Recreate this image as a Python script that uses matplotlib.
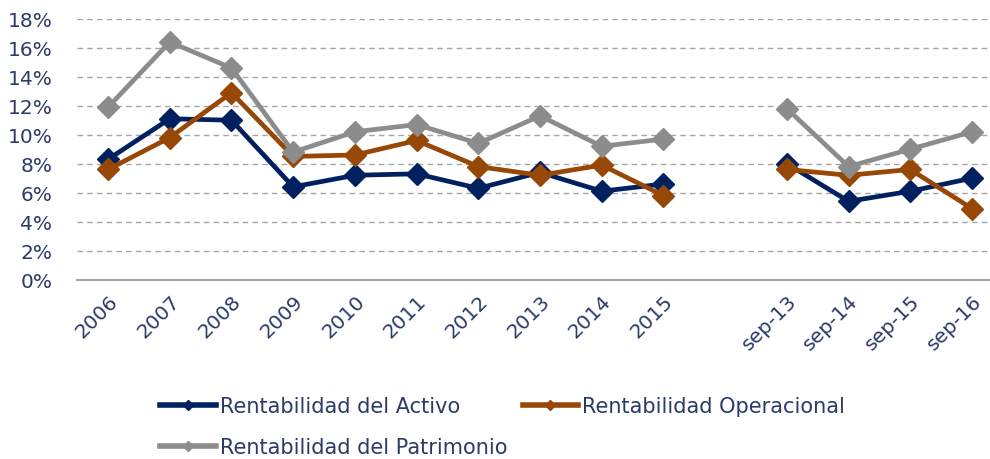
import matplotlib
matplotlib.use("Agg")
import matplotlib.pyplot as plt
import numpy as np
from matplotlib.lines import Line2D

categories = ["2006", "2007", "2008", "2009", "2010", "2011", "2012", "2013", "2014", "2015",
              "", "sep-13", "sep-14", "sep-15", "sep-16"]
activo = [8.3, 11.1, 11.0, 6.4, 7.2, 7.3, 6.3, 7.4, 6.1, 6.6, None, 8.0, 5.4, 6.1, 7.0]
operacional = [7.6, 9.8, 12.9, 8.5, 8.6, 9.6, 7.8, 7.2, 7.9, 5.8, None, 7.6, 7.2, 7.6, 4.9]
patrimonio = [11.9, 16.4, 14.6, 8.8, 10.2, 10.7, 9.4, 11.3, 9.2, 9.7, None, 11.8, 7.8, 9.0, 10.2]
series_names = ["Rentabilidad del Activo", "Rentabilidad Operacional", "Rentabilidad del Patrimonio"]
yticks = [0, 2, 4, 6, 8, 10, 12, 14, 16, 18]

colors = ["#002060", "#974706", "#8C8C8C"]
text_color = "#2B3A67"

fig = plt.figure(figsize=(9.9, 4.6), dpi=100)
ax = fig.add_axes([0.078, 0.39, 0.935, 0.567])

x = np.arange(len(categories))

def to_arr(v):
    return np.array([np.nan if a is None else a for a in v], dtype=float)

for vals, name, c in zip([activo, operacional, patrimonio], series_names, colors):
    ax.plot(x, to_arr(vals), color=c, lw=3.4, marker="D", markersize=11,
            markeredgecolor=c, markerfacecolor=c, label=name, zorder=3)

ax.set_ylim(0, 18)
ax.set_xlim(-0.5, 14.5)
ax.set_yticks(yticks)
ax.set_yticklabels([f"{t}%" for t in yticks], fontsize=14.5, color=text_color)
ax.set_xticks(x)
ax.set_xticklabels(categories, rotation=45, ha="right", rotation_mode="anchor",
                   fontsize=14.5, color=text_color)
ax.tick_params(axis="both", length=0)
ax.tick_params(axis="y", pad=18)
ax.tick_params(axis="x", pad=8)

for t in yticks[1:]:
    ax.axhline(t, color="#A6A6A6", lw=1, ls=(0, (4, 3)), zorder=1)
for s in ["left", "right", "top"]:
    ax.spines[s].set_visible(False)
ax.spines["bottom"].set_color("#A6A6A6")
ax.spines["bottom"].set_linewidth(1.5)

leg_handles = [Line2D([], [], color=c, lw=4, marker="D", markersize=5,
                      markerfacecolor=c, markeredgecolor=c) for c in colors]
order = [0, 2, 1]
leg = fig.legend([leg_handles[i] for i in order], [series_names[i] for i in order],
                 ncol=2, loc="upper left", bbox_to_anchor=(0.162, 0.136),
                 frameon=False, fontsize=15, handlelength=2.65, handletextpad=0.2,
                 columnspacing=0.75, labelspacing=1.0, borderaxespad=0, borderpad=0)
for t in leg.get_texts():
    t.set_color(text_color)

fig.savefig("out.png", dpi=100)
